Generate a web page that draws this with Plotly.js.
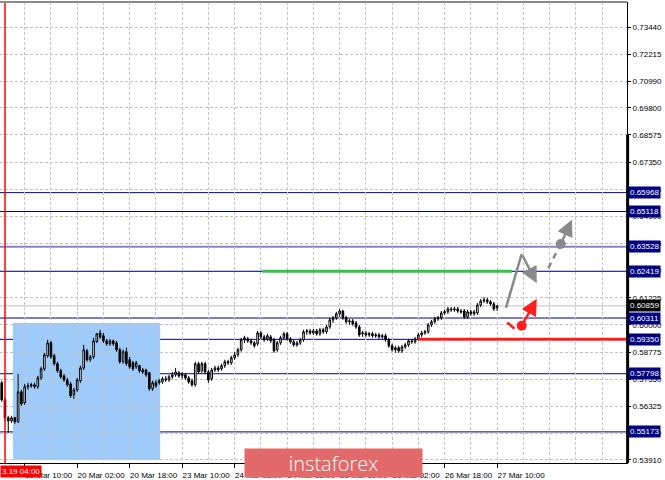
<!DOCTYPE html>
<html>
<head>
<meta charset="utf-8">
<script src="https://cdn.plot.ly/plotly-3.0.1.min.js"></script>
<style>
  html, body { margin: 0; padding: 0; background: #fff; }
  #chart { width: 665px; height: 480px; }
</style>
</head>
<body>
<div id="chart"></div>
<script>
// H1 candles, first one is the bar before 19 Mar 04:00
var open = [
  0.5739,0.5662,0.5581,0.5567,0.5581,0.5563,0.5698,0.5649,0.5721,0.5725,
  0.5730,0.5721,0.5761,0.5802,0.5861,0.5919,0.5861,0.5825,0.5793,0.5770,
  0.5752,0.5734,0.5685,0.5707,0.5748,0.5806,0.5883,0.5843,0.5856,0.5924,
  0.5964,0.5951,0.5928,0.5915,0.5928,0.5919,0.5888,0.5834,0.5879,0.5843,
  0.5829,0.5811,0.5816,0.5797,0.5797,0.5784,0.5712,0.5739,0.5739,0.5743,
  0.5757,0.5752,0.5766,0.5775,0.5784,0.5770,0.5775,0.5761,0.5748,0.5730,
  0.5825,0.5793,0.5825,0.5788,0.5757,0.5797,0.5806,0.5802,0.5816,0.5834,
  0.5829,0.5852,0.5865,0.5888,0.5933,0.5937,0.5928,0.5919,0.5915,0.5964,
  0.5946,0.5937,0.5946,0.5933,0.5888,0.5919,0.5942,0.5960,0.5937,0.5924,
  0.5910,0.5919,0.5933,0.5969,0.5973,0.5964,0.5973,0.5960,0.5978,0.5969,
  0.5991,0.6023,0.6032,0.6050,0.6063,0.6032,0.6014,0.6018,0.6009,0.5991,
  0.5960,0.5964,0.5955,0.5960,0.5951,0.5955,0.5946,0.5951,0.5933,0.5906,
  0.5888,0.5897,0.5883,0.5901,0.5910,0.5928,0.5924,0.5937,0.5955,0.5964,
  0.5969,0.6000,0.6014,0.6027,0.6032,0.6054,0.6059,0.6072,0.6068,0.6072,
  0.6063,0.6063,0.6036,0.6059,0.6050,0.6054,0.6090,0.6108,0.6113,0.6104,
  0.6095,0.6077
];
var high = [
  0.5748,0.5671,0.5590,0.5590,0.5585,0.5779,0.5707,0.5734,0.5739,0.5739,
  0.5739,0.5770,0.5811,0.5874,0.5933,0.5928,0.5870,0.5834,0.5802,0.5779,
  0.5761,0.5743,0.5716,0.5761,0.5816,0.5910,0.5892,0.5865,0.5942,0.5964,
  0.5978,0.5964,0.5937,0.5937,0.5933,0.5928,0.5897,0.5888,0.5897,0.5856,
  0.5838,0.5838,0.5820,0.5806,0.5802,0.5788,0.5748,0.5752,0.5757,0.5766,
  0.5770,0.5775,0.5788,0.5806,0.5793,0.5788,0.5784,0.5770,0.5757,0.5834,
  0.5834,0.5834,0.5834,0.5797,0.5806,0.5816,0.5816,0.5825,0.5843,0.5843,
  0.5861,0.5879,0.5897,0.5942,0.5951,0.5946,0.5937,0.5928,0.5973,0.5973,
  0.5955,0.5960,0.5955,0.5942,0.5928,0.5951,0.5969,0.5969,0.5946,0.5933,
  0.5928,0.5942,0.5978,0.5982,0.5982,0.5982,0.5982,0.5987,0.5987,0.6000,
  0.6032,0.6041,0.6059,0.6072,0.6068,0.6041,0.6027,0.6027,0.6018,0.6000,
  0.5973,0.5973,0.5969,0.5969,0.5964,0.5964,0.5960,0.5960,0.5942,0.5915,
  0.5906,0.5906,0.5910,0.5919,0.5937,0.5937,0.5946,0.5964,0.5973,0.5978,
  0.6009,0.6023,0.6036,0.6041,0.6063,0.6068,0.6081,0.6081,0.6081,0.6081,
  0.6072,0.6072,0.6068,0.6068,0.6068,0.6099,0.6117,0.6126,0.6122,0.6113,
  0.6104,0.6090
];
var low = [
  0.5653,0.5567,0.5513,0.5558,0.5554,0.5558,0.5635,0.5640,0.5707,0.5716,
  0.5712,0.5712,0.5752,0.5793,0.5852,0.5847,0.5816,0.5784,0.5757,0.5743,
  0.5721,0.5671,0.5667,0.5698,0.5739,0.5797,0.5834,0.5834,0.5847,0.5919,
  0.5937,0.5919,0.5906,0.5906,0.5906,0.5879,0.5825,0.5825,0.5816,0.5802,
  0.5793,0.5802,0.5784,0.5779,0.5766,0.5703,0.5703,0.5716,0.5730,0.5734,
  0.5743,0.5743,0.5757,0.5766,0.5761,0.5757,0.5752,0.5734,0.5721,0.5721,
  0.5779,0.5784,0.5779,0.5739,0.5748,0.5788,0.5788,0.5793,0.5806,0.5820,
  0.5820,0.5843,0.5856,0.5879,0.5919,0.5919,0.5910,0.5897,0.5906,0.5937,
  0.5924,0.5928,0.5919,0.5874,0.5879,0.5910,0.5933,0.5928,0.5915,0.5901,
  0.5901,0.5910,0.5924,0.5955,0.5955,0.5955,0.5951,0.5951,0.5960,0.5960,
  0.5982,0.6009,0.6023,0.6036,0.6023,0.6005,0.6000,0.5996,0.5982,0.5946,
  0.5946,0.5946,0.5946,0.5942,0.5942,0.5937,0.5937,0.5924,0.5897,0.5879,
  0.5874,0.5874,0.5874,0.5892,0.5901,0.5915,0.5915,0.5928,0.5946,0.5955,
  0.5960,0.5991,0.6005,0.6018,0.6023,0.6045,0.6050,0.6059,0.6059,0.6054,
  0.6050,0.6027,0.6027,0.6041,0.6041,0.6045,0.6081,0.6099,0.6095,0.6086,
  0.6063,0.6063
];
var close = [
  0.5662,0.5581,0.5567,0.5581,0.5563,0.5698,0.5644,0.5721,0.5725,0.5730,
  0.5721,0.5761,0.5802,0.5865,0.5919,0.5856,0.5825,0.5793,0.5766,0.5752,
  0.5730,0.5680,0.5707,0.5752,0.5806,0.5888,0.5843,0.5856,0.5928,0.5960,
  0.5946,0.5928,0.5915,0.5928,0.5915,0.5888,0.5834,0.5879,0.5825,0.5811,
  0.5802,0.5829,0.5793,0.5788,0.5775,0.5712,0.5739,0.5725,0.5748,0.5757,
  0.5752,0.5766,0.5775,0.5788,0.5770,0.5779,0.5761,0.5743,0.5730,0.5825,
  0.5788,0.5825,0.5788,0.5752,0.5797,0.5806,0.5797,0.5816,0.5834,0.5829,
  0.5852,0.5865,0.5888,0.5933,0.5942,0.5928,0.5919,0.5906,0.5964,0.5946,
  0.5933,0.5951,0.5928,0.5883,0.5919,0.5942,0.5960,0.5937,0.5924,0.5910,
  0.5919,0.5933,0.5969,0.5973,0.5964,0.5973,0.5960,0.5978,0.5969,0.5991,
  0.6023,0.6032,0.6050,0.6063,0.6032,0.6014,0.6018,0.6005,0.5991,0.5955,
  0.5964,0.5955,0.5960,0.5951,0.5955,0.5946,0.5951,0.5933,0.5906,0.5888,
  0.5897,0.5883,0.5901,0.5910,0.5928,0.5924,0.5937,0.5955,0.5964,0.5969,
  0.6000,0.6014,0.6027,0.6032,0.6054,0.6059,0.6072,0.6068,0.6072,0.6063,
  0.6059,0.6036,0.6059,0.6050,0.6059,0.6090,0.6108,0.6113,0.6104,0.6095,
  0.6072,0.6086
];

// time axis (bar numbers) and its labels
var tickBars = [7, 23, 39, 55, 71, 87, 103, 119, 135, 151];
var tickLabels = ["19 Mar 10:00", "20 Mar 02:00", "20 Mar 18:00", "23 Mar 10:00", "24 Mar 02:00",
                  "24 Mar 18:00", "25 Mar 10:00", "26 Mar 02:00", "26 Mar 18:00", "27 Mar 10:00"];
var cursorBar = 1;
var cursorLabel = "3.19 04:00";

// price axis labels
var priceTicks = [0.73440, 0.72215, 0.70990, 0.69800, 0.68575, 0.67350, 0.66125, 0.64900, 0.63675,
                  0.62450, 0.61225, 0.60000, 0.58775, 0.57550, 0.56325, 0.55100, 0.53910];

// horizontal levels drawn on the chart
var levels = [0.65968, 0.65118, 0.63528, 0.62419, 0.60311, 0.59350, 0.57798, 0.55173];
var lastPrice = 0.60859;
var targetLevel = 0.62419;
var targetFrom = 79.4, targetTo = 155.6;
var stopLevel = 0.59350;
var stopFrom = 126.9;

// the blue range box
var zoneBars = [3.44, 48.3];
var zonePrices = [0.5391, 0.6009];

// forecast drawings
var grayZigBars = [153.7, 158.5, 163.1];
var grayZigPrices = [0.6077, 0.6320, 0.6188];
var grayDashBars = [166.6, 170.4, 173.8];
var grayDashPrices = [0.6256, 0.6365, 0.6474];
var redDashBars = [154.1, 156.3];
var redDashPrices = [0.6011, 0.5983];
var redArrowBars = [158.5, 163.1];
var redArrowPrices = [0.5996, 0.6118];

var bars = [];
for (var i = 0; i < open.length; i++) bars.push(i);
var gridBars = [];
for (var g = 7; g < 191; g += 8) gridBars.push(g);

var navy = "#000080";
var grid = "#c4c4c4";
var gray = "#8a8a8a";
var red = "#ff1e1e";

var data = [{
    type: "candlestick",
    x: bars, open: open, high: high, low: low, close: close,
    increasing: {line: {color: "#000", width: 1}, fillcolor: "#fff"},
    decreasing: {line: {color: "#000", width: 1}, fillcolor: "#000"},
    whiskerwidth: 0,
    hoverinfo: "none"
}, {
    type: "scatter", mode: "lines",
    x: grayZigBars.slice(0, 2), y: grayZigPrices.slice(0, 2),
    line: {color: gray, width: 2.5}, hoverinfo: "none"
}, {
    type: "scatter", mode: "lines",
    x: grayDashBars.slice(0, 2), y: grayDashPrices.slice(0, 2),
    line: {color: gray, width: 2.5, dash: "6px,5px"}, hoverinfo: "none"
}, {
    type: "scatter", mode: "markers",
    x: [grayDashBars[1]], y: [grayDashPrices[1]],
    marker: {color: gray, size: 10}, hoverinfo: "none"
}, {
    type: "scatter", mode: "lines",
    x: redDashBars, y: redDashPrices,
    line: {color: red, width: 2.5}, hoverinfo: "none"
}, {
    type: "scatter", mode: "markers",
    x: [redArrowBars[0]], y: [redArrowPrices[0]],
    marker: {color: red, size: 10}, hoverinfo: "none"
}];

var shapes = [{
    type: "rect", layer: "below", xref: "x", yref: "y",
    x0: zoneBars[0], x1: zoneBars[1], y0: zonePrices[0], y1: zonePrices[1],
    fillcolor: "#9ecbfa", line: {width: 0}
}];
levels.forEach(function(v) {
    var light = (v === 0.63528);
    shapes.push({
        type: "line", layer: "between", xref: "paper", yref: "y",
        x0: 0, x1: 1, y0: v, y1: v,
        line: {color: light ? "#8585c8" : navy, width: light ? 2 : 1}
    });
});
shapes.push({
    type: "line", layer: "between", xref: "paper", yref: "y",
    x0: 0, x1: 1, y0: lastPrice, y1: lastPrice,
    line: {color: "#c0c0c0", width: 1}
});
shapes.push({
    type: "line", xref: "x", yref: "y",
    x0: targetFrom, x1: targetTo, y0: targetLevel, y1: targetLevel,
    line: {color: "#35c24e", width: 3}
});
shapes.push({
    type: "line", xref: "x", yref: "y",
    x0: stopFrom, x1: 190.6, y0: stopLevel, y1: stopLevel,
    line: {color: red, width: 3}
});
shapes.push({
    type: "line", xref: "x", yref: "paper",
    x0: cursorBar, x1: cursorBar, y0: 0, y1: 1,
    line: {color: "#ff0000", width: 1.5}
});
shapes.push({
    type: "line", xref: "paper", yref: "paper",
    x0: 0, x1: 1, y0: 1, y1: 1,
    line: {color: "#8c8c8c", width: 2}
});
shapes.push({
    type: "line", xref: "paper", yref: "y",
    x0: 1.001, x1: 1.001, y0: 0.68575, y1: 0.5377,
    line: {color: "#000", width: 3}
});

var annotations = [];
levels.forEach(function(v) {
    annotations.push({
        xref: "paper", yref: "y", x: 1, y: v, xanchor: "left", xshift: 1,
        text: v.toFixed(5), showarrow: false, bgcolor: navy, borderpad: 1,
        font: {color: "#fff", size: 8}
    });
});
annotations.push({
    xref: "paper", yref: "y", x: 1, y: lastPrice, xanchor: "left", xshift: 1,
    text: lastPrice.toFixed(5), showarrow: false, bgcolor: "#000", borderpad: 1,
    font: {color: "#fff", size: 8}
});
annotations.push({
    xref: "x", yref: "y", axref: "x", ayref: "y",
    x: grayZigBars[2], y: grayZigPrices[2], ax: grayZigBars[1], ay: grayZigPrices[1],
    text: "", showarrow: true, arrowhead: 2, arrowsize: 1.3, arrowwidth: 2.5, arrowcolor: gray
});
annotations.push({
    xref: "x", yref: "y", axref: "x", ayref: "y",
    x: grayDashBars[2], y: grayDashPrices[2], ax: grayDashBars[1], ay: grayDashPrices[1],
    text: "", showarrow: true, arrowhead: 2, arrowsize: 1.3, arrowwidth: 2.5, arrowcolor: gray
});
annotations.push({
    xref: "x", yref: "y", axref: "x", ayref: "y",
    x: redArrowBars[1], y: redArrowPrices[1], ax: redArrowBars[0], ay: redArrowPrices[0],
    text: "", showarrow: true, arrowhead: 2, arrowsize: 1.3, arrowwidth: 2.5, arrowcolor: red
});
annotations.push({
    xref: "paper", yref: "paper", x: 0, y: 0, xanchor: "left", yanchor: "top", yshift: -2,
    text: cursorLabel, showarrow: false, bgcolor: "#ff0000", borderpad: 1,
    font: {color: "#fff", size: 8}
});
annotations.push({
    xref: "paper", yref: "paper", x: 0.532, y: 0, xanchor: "center", yanchor: "middle",
    text: "instaforex", showarrow: false, bgcolor: "#e26a6a",
    width: 173, height: 24, borderpad: 2,
    font: {family: "Open Sans, sans-serif", size: 20, color: "#fff", weight: 300}
});

var layout = {
    width: 665, height: 480,
    margin: {l: 0, r: 38, t: 2, b: 17},
    paper_bgcolor: "#fff", plot_bgcolor: "#fff",
    showlegend: false,
    font: {family: "Liberation Sans, Arial, sans-serif", size: 8, color: "#000"},
    xaxis: {
        range: [-0.52, 190.6],
        rangeslider: {visible: false},
        tickmode: "array", tickvals: tickBars, ticktext: tickLabels,
        ticks: "outside", ticklen: 4, tickcolor: "#000",
        ticklabelshift: 24,
        showgrid: true, gridcolor: grid, griddash: "3px,2px",
        minor: {tickmode: "array", tickvals: gridBars, showgrid: true, gridcolor: grid, griddash: "3px,2px", ticks: ""},
        showline: true, linecolor: "#000", linewidth: 1, zeroline: false, fixedrange: true
    },
    yaxis: {
        side: "right", range: [0.5377, 0.7457],
        tickmode: "array", tickvals: priceTicks,
        ticktext: priceTicks.map(function(v) { return v.toFixed(5); }),
        ticks: "outside", ticklen: 3, tickcolor: "#000",
        showgrid: true, gridcolor: grid, griddash: "3px,2px",
        showline: true, linecolor: "#000", linewidth: 1, zeroline: false, fixedrange: true
    },
    shapes: shapes,
    annotations: annotations
};

Plotly.newPlot("chart", data, layout, {displayModeBar: false, staticPlot: true});
</script>
</body>
</html>
